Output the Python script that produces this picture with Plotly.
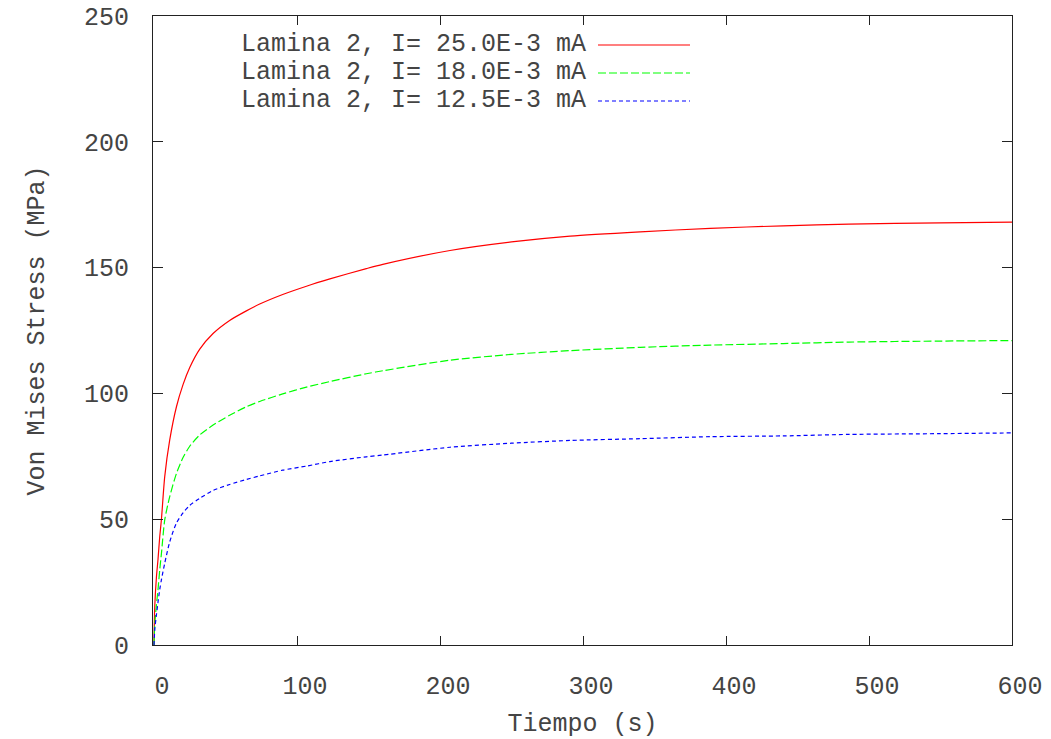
import plotly.graph_objects as go

# Time samples (s)
tiempo = [0, 0.5, 1.7, 2.8, 4, 5.2, 7.5, 11, 15.7, 20.3, 25, 32, 41.3, 52.9,
          64.6, 73.9, 90, 106.6, 123, 148.5, 160, 207, 250, 291, 340, 389, 440,
          486, 550, 600]

# Von Mises stress (MPa)
stress_25 = [0, 15, 27, 34, 43, 50, 66.9, 81.5, 94.7, 103.5, 110.3, 117.6, 123.8,
             129.0, 132.8, 135.5, 139.3, 142.6, 145.5, 149.6, 151.3, 156.8, 160.2,
             162.5, 164.2, 165.6, 166.6, 167.3, 167.8, 168.1]
stress_18 = [0, 8, 16, 22, 29.8, 36.4, 49.7, 59, 68.2, 74.5, 79, 83.5, 87.4, 91.3,
             94.7, 96.8, 99.8, 102.5, 104.7, 107.8, 109, 113.2, 115.5, 117, 118.3,
             119.2, 119.8, 120.4, 120.8, 121]
stress_12 = [0, 6, 12, 17, 22, 26, 32.5, 41, 48.5, 52.5, 55.5, 58.3, 61.4, 63.8,
             65.8, 67.2, 69.5, 71.1, 72.9, 74.8, 75.5, 78.6, 80.2, 81.3, 82.0,
             82.8, 83.1, 83.7, 84.0, 84.3]

names = ["Lamina 2, I= 25.0E-3 mA", "Lamina 2, I= 18.0E-3 mA",
         "Lamina 2, I= 12.5E-3 mA"]
colors = ["#ff0000", "#00ff00", "#0000ff"]
dashes = ["solid", "8px,3px", "4px,3px"]

x_ticks = [0, 100, 200, 300, 400, 500, 600]
y_ticks = [0, 50, 100, 150, 200, 250]

FONT = "Liberation Mono, Courier New, monospace"
TXT = "#444444"
FS = 25

fig = go.Figure()
for ys, nm, c, d in zip([stress_25, stress_18, stress_12], names, colors, dashes):
    fig.add_trace(go.Scatter(x=tiempo, y=ys, mode="lines", name=nm,
                             line=dict(color=c, width=1.2, dash=d, shape="spline",
                                       smoothing=0.7),
                             showlegend=False))

W, H = 1051, 739
L, R, T, B = 153, 39, 16, 94
pw, ph = W - L - R, H - T - B

def px(x):
    return (x - L) / pw

def py(y):
    return 1 - (y - T) / ph

annotations = []
shapes = []
rows = [45, 73, 101]
for nm, c, d, yy in zip(names, colors, dashes, rows):
    annotations.append(dict(x=px(588), y=py(yy), xref="paper", yref="paper",
                            text=nm, showarrow=False, xanchor="right",
                            yanchor="middle",
                            font=dict(family=FONT, size=FS, color=TXT)))
    shapes.append(dict(type="line", xref="paper", yref="paper",
                       x0=px(598), x1=px(690), y0=py(yy), y1=py(yy),
                       line=dict(color=c, width=1.2, dash=d)))

fig.update_layout(
    width=W, height=H,
    margin=dict(l=L, r=R, t=T, b=B, autoexpand=False),
    paper_bgcolor="white", plot_bgcolor="white",
    font=dict(family=FONT, size=FS, color=TXT),
    annotations=annotations,
    shapes=shapes,
    showlegend=False,
)
fig.update_xaxes(
    range=[-0.7, 600], tickvals=x_ticks, ticktext=[str(v) for v in x_ticks],
    ticks="inside", ticklen=9, tickcolor="#222", tickwidth=1,
    showline=True, linecolor="#222", linewidth=1, mirror="ticks",
    showgrid=False, zeroline=False, automargin=False,
    ticklabelstandoff=18, ticklabelshift=8,
    title=dict(text="Tiempo (s)", standoff=17,
               font=dict(family=FONT, size=FS, color=TXT)),
)
fig.update_yaxes(
    range=[0, 250], tickvals=y_ticks, ticktext=[str(v) for v in y_ticks],
    ticks="inside", ticklen=10, tickcolor="#222", tickwidth=1,
    showline=True, linecolor="#222", linewidth=1, mirror="ticks",
    showgrid=False, zeroline=False, automargin=False,
    ticklabelstandoff=18,
    title=dict(text="Von Mises Stress (MPa)", standoff=32,
               font=dict(family=FONT, size=FS, color=TXT)),
)

fig.write_html("out.html")
